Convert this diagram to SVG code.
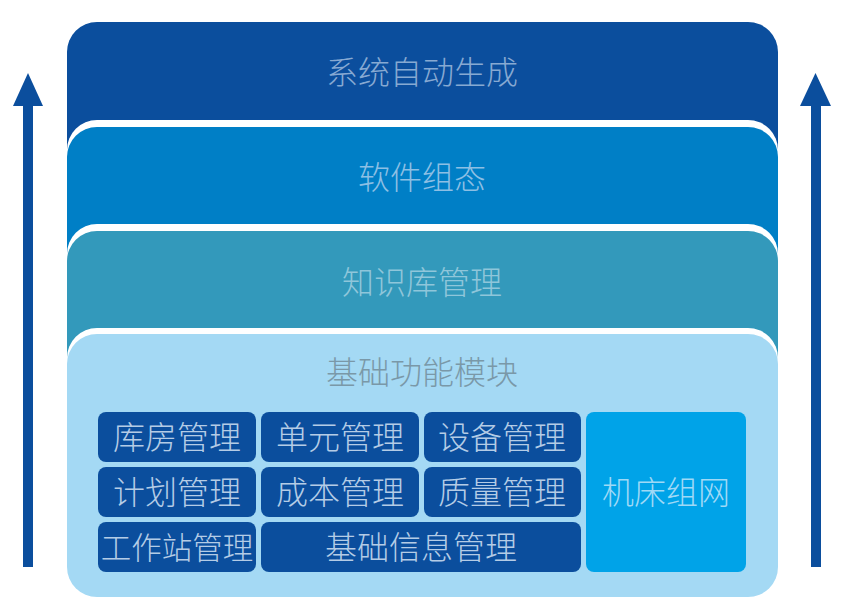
<svg xmlns="http://www.w3.org/2000/svg" width="844" height="600" viewBox="0 0 844 600">
<style>
text{font-family:"Noto Sans CJK SC","Noto Sans",sans-serif;font-size:32px;font-weight:200;text-anchor:middle}
.box{fill:#0b4e9d}
.bt{fill:#b4cce6}
.arrow{fill:#0b4e9d}
</style>
<rect width="844" height="600" fill="#ffffff"/>
<g id="layer-system">
<rect x="67" y="22" width="711" height="180" rx="30" fill="#0b4e9d"/>
<text x="422" y="84" fill="#87a9d2">系统自动生成</text>
</g>
<g id="layer-software">
<rect x="67" y="120" width="711" height="180" rx="30" fill="#ffffff"/>
<rect x="67" y="127" width="711" height="180" rx="30" fill="#007fc6"/>
<text x="422" y="189" fill="#8dbfe4">软件组态</text>
</g>
<g id="layer-knowledge">
<rect x="67" y="224" width="711" height="180" rx="30" fill="#ffffff"/>
<rect x="67" y="231" width="711" height="180" rx="30" fill="#3399bb"/>
<text x="422" y="294" fill="#8fc6da">知识库管理</text>
</g>
<g id="layer-basic">
<rect x="67" y="328" width="711" height="270" rx="30" fill="#ffffff"/>
<rect x="67" y="334" width="711" height="263" rx="30" fill="#a4d9f4"/>
<text x="422" y="384" fill="#7a98a8">基础功能模块</text>
</g>
<g id="m-warehouse"><rect class="box" x="98" y="412" width="158" height="50" rx="8"/><text class="bt" x="177" y="449">库房管理</text></g>
<g id="m-unit"><rect class="box" x="261" y="412" width="158" height="50" rx="8"/><text class="bt" x="340" y="449">单元管理</text></g>
<g id="m-equipment"><rect class="box" x="424" y="412" width="157" height="50" rx="8"/><text class="bt" x="502" y="449">设备管理</text></g>
<g id="m-plan"><rect class="box" x="98" y="467" width="158" height="50" rx="8"/><text class="bt" x="177" y="504">计划管理</text></g>
<g id="m-cost"><rect class="box" x="261" y="467" width="158" height="50" rx="8"/><text class="bt" x="340" y="504">成本管理</text></g>
<g id="m-quality"><rect class="box" x="424" y="467" width="157" height="50" rx="8"/><text class="bt" x="502" y="504">质量管理</text></g>
<g id="m-workstation"><rect class="box" x="98" y="522" width="158" height="50" rx="8"/><text class="bt" x="177" y="559" style="font-size:30.5px">工作站管理</text></g>
<g id="m-baseinfo"><rect class="box" x="261" y="522" width="320" height="50" rx="8"/><text class="bt" x="421" y="559">基础信息管理</text></g>
<g id="m-machine"><rect x="586" y="412" width="160" height="160" rx="8" fill="#00a3e8"/><text x="666" y="504" fill="#9fd9f6">机床组网</text></g>
<g id="connectors">
<g id="arrow-left"><rect class="arrow" x="23" y="100" width="10" height="467"/><polygon class="arrow" points="13,106 28,73 43,106"/></g>
<g id="arrow-right"><rect class="arrow" x="811" y="100" width="10" height="467"/><polygon class="arrow" points="800,106 815.5,73 831,106"/></g>
</g>
</svg>
